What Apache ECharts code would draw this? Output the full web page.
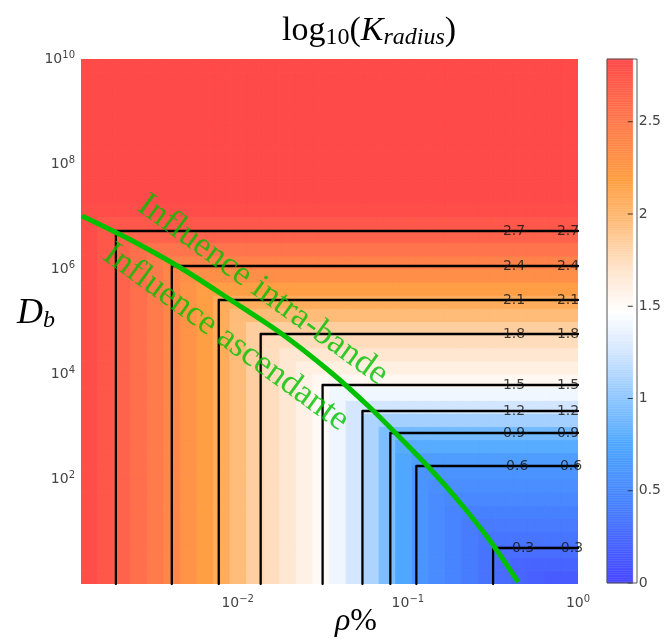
<!DOCTYPE html>
<html><head><meta charset="utf-8">
<script src="https://cdn.jsdelivr.net/npm/echarts@6/dist/echarts.min.js"></script>
<style>html,body{margin:0;padding:0;background:#fff}#c{width:664px;height:643px}</style>
</head><body><div id="c"></div>
<script>
// ---------------- DATA ----------------
const X_MIN = 0.0012, X_MAX = 1, Y_MIN = 1, Y_MAX = 1e10, V_MAX = 2.84;
// contour levels and L-corner positions (x of vertical branch, y of horizontal branch)
const levels   = [0.3, 0.6, 0.9, 1.2, 1.5, 1.8, 2.1, 2.4, 2.7];
const contourX = [0.317, 0.1122, 0.0789, 0.0541, 0.03155, 0.01365, 0.00774, 0.0041, 0.001923];
const contourY = [4.85, 177, 752, 1972, 6166, 57810, 257000, 1.14e6, 5.3e6];
const labelX1  = [0.476, 0.439, 0.421, 0.421, 0.421, 0.421, 0.421, 0.421, 0.421];
const labelX2  = [0.922, 0.910, 0.874, 0.874, 0.874, 0.874, 0.874, 0.874, 0.874];
// green boundary curve
const curveX = [0.001216, 0.002356, 0.004634, 0.009096, 0.01787, 0.03508, 0.06026, 0.09036, 0.1355, 0.2032, 0.3048, 0.4448];
const curveY = [1.023e7, 3.566e6, 1.045e6, 2.57e5, 6.04e4, 1.091e4, 2250, 604, 155, 34.9, 6.59, 1.09];
// field profiles: value per x column (log-spaced) and per y row (log-spaced); cell = max(col,row)
const colVals = [2.81,2.74,2.66,2.58,2.49,2.40,2.29,2.19,2.08,1.96,1.84,1.75,1.67,1.59,1.51,1.39,1.26,1.11,0.93,0.74,0.58,0.52,0.45,0.39,0.32,0.27,0.22,0.18,0.13,0.08];
const rowVals = [0.14,0.21,0.28,0.34,0.38,0.43,0.48,0.53,0.58,0.66,0.78,0.90,1.08,1.25,1.40,1.53,1.60,1.68,1.76,1.85,1.97,2.08,2.20,2.32,2.43,2.54,2.66,2.74,2.82,2.84,2.84,2.84,2.84,2.84,2.84,2.84,2.84,2.84,2.84,2.84];
// annotations
const annoText = ['Influence intra-bande', 'Influence ascendante'];
const annoX = [0.01402, 0.00851];
const annoY = [3.98e5, 5.0e4];
const cbarTicks = [0, 0.5, 1, 1.5, 2, 2.5];

// ---------------- STYLE ----------------
const cmapStops = [[0,[72,72,255]],[0.45,[72,132,255]],[0.75,[80,168,255]],[1.0,[142,198,255]],[1.25,[210,230,255]],[1.47,[255,255,255]],[1.72,[255,226,200]],[1.95,[255,190,125]],[2.18,[255,160,68]],[2.5,[255,122,76]],[2.84,[255,74,74]]];
function cmap(v){
  if (v <= cmapStops[0][0]) return 'rgb(' + cmapStops[0][1].join(',') + ')';
  for (let i = 1; i < cmapStops.length; i++){
    if (v <= cmapStops[i][0]){
      const a = cmapStops[i-1], b = cmapStops[i];
      const t = (v - a[0]) / (b[0] - a[0]);
      const c = a[1].map((x, k) => Math.round(x + (b[1][k] - x) * t));
      return 'rgb(' + c.join(',') + ')';
    }
  }
  return 'rgb(' + cmapStops[cmapStops.length-1][1].join(',') + ')';
}
const LX0 = Math.log10(X_MIN), LX1 = Math.log10(X_MAX), LY0 = Math.log10(Y_MIN), LY1 = Math.log10(Y_MAX);
const cells = [];
for (let i = 0; i < colVals.length; i++){
  const xa = Math.pow(10, LX0 + (LX1-LX0)*i/colVals.length), xb = Math.pow(10, LX0 + (LX1-LX0)*(i+1)/colVals.length);
  for (let j = 0; j < rowVals.length; j++){
    const ya = Math.pow(10, LY0 + (LY1-LY0)*j/rowVals.length), yb = Math.pow(10, LY0 + (LY1-LY0)*(j+1)/rowVals.length);
    cells.push([xa, xb, ya, yb, Math.max(colVals[i], rowVals[j])]);
  }
}
const cbarData = [];
const NB = 300;
for (let k = 0; k < NB; k++) cbarData.push([V_MAX*k/NB, V_MAX*(k+1)/NB]);

const sansFont = 'DejaVu Sans';
const serif = 'Liberation Serif';
const tickRich = {
  b: {fontSize: 14, color: '#444', fontFamily: sansFont},
  s: {fontSize: 10, color: '#444', fontFamily: sansFont, padding: [0,0,8,0]}
};
function powLabel(v){
  const l = Math.log10(v), e = Math.round(l);
  if (Math.abs(l - e) > 1e-6) return '';
  return '{b|10}{s|' + (e < 0 ? '\u2212' + (-e) : e) + '}';
}

const series = [];
series.push({
  type: 'custom', xAxisIndex: 0, yAxisIndex: 0, z: 1, silent: true,
  encode: {x: [0,1], y: [2,3]},
  data: cells,
  renderItem(params, api){
    const p0 = api.coord([api.value(0), api.value(3)]);
    const p1 = api.coord([api.value(1), api.value(2)]);
    const col = cmap(api.value(4));
    return {type: 'rect', shape: {x: p0[0], y: p0[1], width: p1[0]-p0[0], height: p1[1]-p0[1]},
            style: {fill: col, stroke: col, lineWidth: 1}};
  },
  clip: true
});
levels.forEach((lv, i) => {
  series.push({
    type: 'line', xAxisIndex: 0, yAxisIndex: 0, z: 2, silent: true, symbol: 'none',
    data: [[contourX[i], Y_MIN], [contourX[i], contourY[i]], [X_MAX, contourY[i]]],
    lineStyle: {color: '#000', width: 2.3, join: 'round', cap: 'round'}
  });
});
const labData = [];
levels.forEach((lv, i) => {
  labData.push({value: [labelX1[i], contourY[i]], name: String(lv)});
  labData.push({value: [labelX2[i], contourY[i]], name: String(lv)});
});
series.push({
  type: 'scatter', xAxisIndex: 0, yAxisIndex: 0, z: 3, silent: true, symbolSize: 0,
  data: labData,
  label: {show: true, position: 'inside', formatter: p => p.name, fontSize: 14, color: '#111', fontFamily: sansFont}
});
series.push({
  type: 'line', xAxisIndex: 0, yAxisIndex: 0, z: 4, silent: true, symbol: 'none', smooth: 0.3,
  data: curveX.map((x, i) => [x, curveY[i]]),
  lineStyle: {color: '#00c000', width: 5}
});
series.push({
  type: 'scatter', xAxisIndex: 0, yAxisIndex: 0, z: 5, silent: true, symbolSize: 0,
  data: annoText.map((t, i) => ({value: [annoX[i], annoY[i]], name: t})),
  label: {show: true, position: 'inside', rotate: -36, formatter: p => p.name, fontSize: 35, color: '#00c000', fontFamily: serif}
});
series.push({
  type: 'custom', xAxisIndex: 1, yAxisIndex: 1, z: 1, silent: true,
  data: cbarData,
  encode: {y: [0,1]},
  renderItem(params, api){
    const p0 = api.coord([0, api.value(1)]);
    const p1 = api.coord([1, api.value(0)]);
    const col = cmap((api.value(0)+api.value(1))/2);
    return {type: 'rect', shape: {x: p0[0], y: p0[1], width: p1[0]-p0[0], height: p1[1]-p0[1]},
            style: {fill: col, stroke: col, lineWidth: 0.5}};
  }
});
series.push({
  type: 'custom', xAxisIndex: 1, yAxisIndex: 1, z: 3, silent: true,
  data: cbarTicks.map(v => [1, v]),
  renderItem(params, api){
    const p = api.coord([api.value(0), api.value(1)]);
    return {type: 'line', shape: {x1: p[0] - 5, y1: p[1], x2: p[0], y2: p[1]},
            style: {stroke: '#333', lineWidth: 1}};
  }
});

const chart = echarts.init(document.getElementById('c'), null, {renderer: 'canvas'});
chart.setOption({
  backgroundColor: '#fff',
  animation: false,
  grid: [
    {left: 81, top: 59, width: 497, height: 525},
    {left: 607, top: 59, width: 30, height: 524}
  ],
  xAxis: [
    {type: 'log', gridIndex: 0, min: X_MIN, max: X_MAX, logBase: 10,
     axisLine: {show: false}, axisTick: {show: false}, splitLine: {show: false},
     axisLabel: {formatter: powLabel, rich: tickRich, margin: 10, showMinLabel: true, showMaxLabel: true}},
    {type: 'value', gridIndex: 1, min: 0, max: 1, show: false}
  ],
  yAxis: [
    {type: 'log', gridIndex: 0, min: Y_MIN, max: Y_MAX, logBase: 10, interval: 2,
     axisLine: {show: false}, axisTick: {show: false}, splitLine: {show: false},
     axisLabel: {formatter: v => (Math.round(Math.log10(v)) === 0 ? '' : powLabel(v)), rich: tickRich, margin: 6}},
    {type: 'value', gridIndex: 1, min: 0, max: V_MAX, interval: 0.5, position: 'right',
     axisLine: {show: false}, splitLine: {show: false}, axisTick: {show: false},
     axisLabel: {margin: 6, fontSize: 14, color: '#444', fontFamily: sansFont, showMaxLabel: false,
                 formatter: v => (cbarTicks.indexOf(Math.round(v*10)/10) >= 0 ? String(Math.round(v*10)/10) : '')}}
  ],
  series: series,
  graphic: [
    {type: 'rect', silent: true, z: 10, shape: {x: 607, y: 59, width: 30, height: 524},
     style: {fill: 'none', stroke: '#555', lineWidth: 1}},
    {type: 'text', silent: true, z: 10, x: 369, y: 31,
     style: {text: '{n|log}{sb|10}{n|(}{k|K}{si|radius}{n|)}', align: 'center', verticalAlign: 'middle',
       rich: {
         n: {fontSize: 34, fontFamily: serif, color: '#000'},
         sb: {fontSize: 24, fontFamily: serif, color: '#000', padding: [14,0,0,0]},
         k: {fontSize: 34, fontFamily: serif, fontStyle: 'italic', color: '#000'},
         si: {fontSize: 24, fontFamily: serif, fontStyle: 'italic', color: '#000', padding: [14,0,0,0]}
       }}},
    {type: 'text', silent: true, z: 10, x: 36, y: 314,
     style: {text: '{d|D}{b|b}', align: 'center', verticalAlign: 'middle',
       rich: {
         d: {fontSize: 36, fontFamily: serif, fontStyle: 'italic', color: '#000'},
         b: {fontSize: 24, fontFamily: serif, fontStyle: 'italic', color: '#000', padding: [14,0,0,0]}
       }}},
    {type: 'text', silent: true, z: 10, x: 356, y: 622,
     style: {text: '{i|\u03c1}{n|%}', align: 'center', verticalAlign: 'middle',
       rich: {
         i: {fontSize: 32, fontFamily: serif, fontStyle: 'italic', color: '#000'},
         n: {fontSize: 32, fontFamily: serif, color: '#000'}
       }}}
  ]
});
</script>
</body></html>
